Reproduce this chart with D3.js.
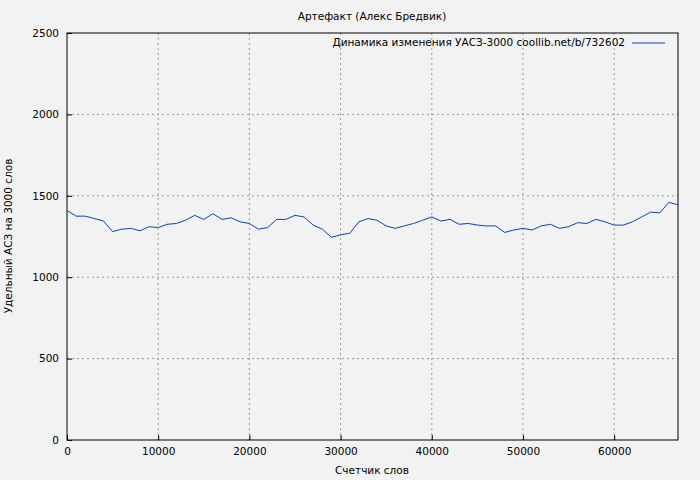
<!DOCTYPE html>
<html><head><meta charset="utf-8">
<script src="https://cdn.jsdelivr.net/npm/d3@7"></script>
<style>body{margin:0;background:#f2f2f2;font-family:"DejaVu Sans",sans-serif;}</style>
</head><body><div id="chart"></div>
<script>
// words counted (step 1000) and specific value per 3000 words
var words = d3.range(0, 68000, 1000);
var values = [1410,1375,1375,1360,1345,1280,1295,1300,1285,1310,1305,1325,1330,1350,1380,1355,1390,1355,1365,1340,
  1330,1295,1305,1355,1355,1380,1370,1320,1295,1245,1260,1270,1340,1360,1350,1315,1300,1315,1330,1350,
  1370,1345,1355,1325,1330,1320,1315,1315,1275,1290,1300,1290,1315,1325,1300,1310,1335,1330,1355,1340,
  1320,1320,1340,1370,1400,1395,1460,1445];
var xTicks = [0,10000,20000,30000,40000,50000,60000];
var yTicks = [0,500,1000,1500,2000,2500];

var svg = d3.select("#chart").append("svg").attr("width",700).attr("height",480)
  .style("font-family","DejaVu Sans").style("font-size","10.5px");
svg.append("rect").attr("width",700).attr("height",480).attr("fill","#f2f2f2");

var x = d3.scaleLinear().domain([0,67000]).range([67,678]);
var y = d3.scaleLinear().domain([0,2500]).range([440,33]);

// grid
svg.selectAll(".gx").data(xTicks.slice(1)).enter().append("line")
  .attr("x1",d=>x(d)).attr("x2",d=>x(d)).attr("y1",33).attr("y2",440)
  .attr("stroke","#999").attr("stroke-dasharray","2,3");
svg.selectAll(".gy").data(yTicks.slice(1,-1)).enter().append("line")
  .attr("y1",d=>y(d)).attr("y2",d=>y(d)).attr("x1",67).attr("x2",678)
  .attr("stroke","#999").attr("stroke-dasharray","2,3");

svg.append("rect").attr("x",67).attr("y",33).attr("width",611).attr("height",407)
  .attr("fill","none").attr("stroke","#000");

var xa = svg.append("g").attr("transform","translate(0,440)")
  .call(d3.axisBottom(x).tickValues(xTicks).tickFormat(d3.format("d")).tickSize(-5).tickPadding(8));
var ya = svg.append("g").attr("transform","translate(67,0)")
  .call(d3.axisLeft(y).tickValues(yTicks).tickFormat(d3.format("d")).tickSize(-5).tickPadding(8));
[xa,ya].forEach(function(a){
  a.select(".domain").remove();
  a.selectAll("text").style("font-family","DejaVu Sans").style("font-size","10.5px").attr("fill","#000");
});

svg.append("path").datum(words.map((w,i)=>[w,values[i]]))
  .attr("fill","none").attr("stroke","#0645b0").attr("stroke-width",1)
  .attr("d", d3.line().x(d=>x(d[0])).y(d=>y(d[1])));

svg.append("text").attr("x",372).attr("y",20).attr("text-anchor","middle").text("Артефакт (Алекс Бредвик)");
svg.append("text").attr("x",372).attr("y",474).attr("text-anchor","middle").text("Счетчик слов");
svg.append("text").attr("transform","translate(12,236) rotate(-90)").attr("text-anchor","middle")
  .text("Удельный АСЗ на 3000 слов");
svg.append("text").attr("x",625).attr("y",46).attr("text-anchor","end").text("Динамика изменения УАСЗ-3000 coollib.net/b/732602");
svg.append("line").attr("x1",632).attr("x2",665).attr("y1",43).attr("y2",43).attr("stroke","#0645b0");
</script></body></html>
